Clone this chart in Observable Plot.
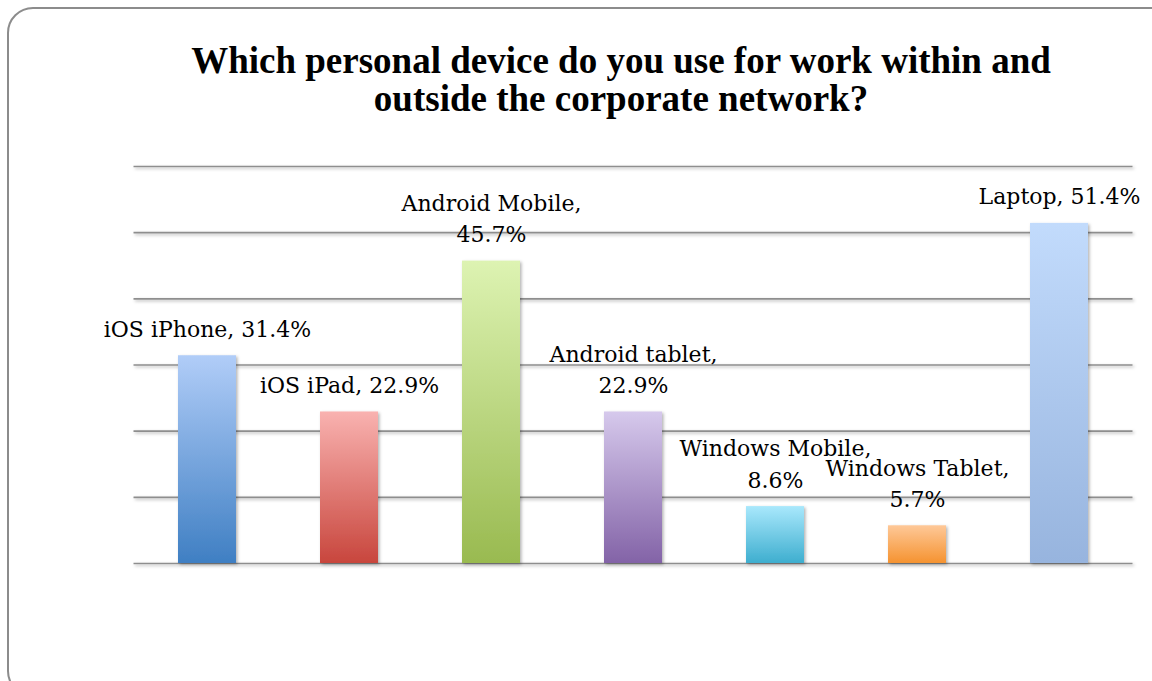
<!DOCTYPE html>
<html>
<head>
<meta charset="utf-8">
<script src="https://cdn.jsdelivr.net/npm/d3@7"></script>
<script src="https://cdn.jsdelivr.net/npm/@observablehq/plot@0.6"></script>
<style>
  html, body { margin: 0; padding: 0; background: #fff; }
  #frame { position: relative; width: 1152px; height: 681px; overflow: hidden; background: #fff; }
  #border {
    position: absolute; left: 7px; top: 7px; width: 1170px; height: 690px;
    border: 2px solid #8c8c8c; border-radius: 26px; box-sizing: border-box;
  }
  #title {
    position: absolute; left: 121px; width: 1000px; top: 42px;
    text-align: center; font-family: "Liberation Serif", serif; font-weight: bold;
    font-size: 37px; line-height: 38px; color: #000;
  }
  #chart { position: absolute; left: 0; top: 130px; }
</style>
</head>
<body>
<div id="frame">
  <div id="border"></div>
  <div id="title">Which personal device do you use for work within and<br>outside the corporate network?</div>
  <div id="chart"></div>
</div>
<script>
// Survey answers: share of respondents per device (%)
const devices = ["iOS iPhone", "iOS iPad", "Android Mobile", "Android tablet", "Windows Mobile", "Windows Tablet", "Laptop"];
const shares = [31.4, 22.9, 45.7, 22.9, 8.6, 5.7, 51.4];

// Gradient stops per bar: light at the top, saturated at the base
const topColors = ["#b1cdf8", "#f9b2b0", "#ddf3b2", "#d6c9ec", "#a9e8fc", "#fec898", "#c2dbfc"];
const baseColors = ["#3f7fc3", "#c8463d", "#99ba50", "#8363a7", "#3eaecf", "#f59330", "#97b4de"];

const yTicks = [0, 10, 20, 30, 40, 50, 60];

const rows = devices.map((device, i) => ({
  device,
  share: shares[i],
  paint: `url(#bar-grad-${i})`,
  label: `${device}, ${shares[i]}%`
}));

// SVG defs: vertical gradients and a soft drop shadow
function defs() {
  const d = d3.create("svg:defs");
  devices.forEach((_, i) => {
    const g = d.append("linearGradient")
      .attr("id", `bar-grad-${i}`)
      .attr("x1", 0).attr("y1", 0).attr("x2", 0).attr("y2", 1);
    g.append("stop").attr("offset", "0%").attr("stop-color", topColors[i]);
    g.append("stop").attr("offset", "100%").attr("stop-color", baseColors[i]);
  });
  const f = d.append("filter").attr("id", "soft-shadow")
    .attr("x", "-20%").attr("y", "-20%").attr("width", "140%").attr("height", "140%");
  f.append("feDropShadow").attr("dx", 1.5).attr("dy", 1.5).attr("stdDeviation", 1.5)
    .attr("flood-color", "#000").attr("flood-opacity", 0.3);
  return d.node();
}

const chart = Plot.plot({
  width: 1152,
  height: 551,
  marginLeft: 133.5,
  marginRight: 19.5,
  marginTop: 36,
  marginBottom: 118,
  style: { background: "transparent", fontFamily: "'DejaVu Serif', serif" },
  x: { domain: devices, paddingInner: 0.594, paddingOuter: 0.297, axis: null },
  y: { domain: [0, 60], axis: null },
  color: { type: "identity" },
  marks: [
    defs,
    Plot.ruleY(yTicks, { stroke: "#8e8e8e", strokeWidth: 1.6 }),
    Plot.barY(rows, { x: "device", y: "share", fill: "paint" }),
    Plot.text(rows, {
      x: "device", y: "share", text: "label",
      lineWidth: 9.5, lineAnchor: "bottom", lineHeight: 1.42,
      dy: -19, fontSize: 22, fill: "#000"
    })
  ]
});

chart.querySelectorAll('g[aria-label="bar"], g[aria-label="rule"]').forEach(g => g.setAttribute("filter", "url(#soft-shadow)"));
document.getElementById("chart").appendChild(chart);
</script>
</body>
</html>
